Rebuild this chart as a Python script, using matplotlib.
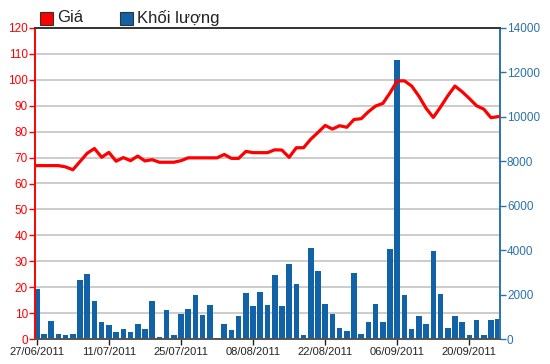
import matplotlib
matplotlib.use("Agg")
import matplotlib.pyplot as plt
from matplotlib.patches import Rectangle

plt.rcParams['font.family'] = ['Liberation Sans', 'DejaVu Sans']

# trading-day labels shown on the x axis (every 10th session)
tick_labels = ['27/06/2011', '11/07/2011', '25/07/2011', '08/08/2011',
               '22/08/2011', '06/09/2011', '20/09/2011']

# closing price (left axis)
price = [66.9, 66.9, 66.9, 66.9, 66.4, 65.3, 68.5, 71.7, 73.5, 70.1,
         72.0, 68.6, 70.0, 68.8, 70.6, 68.7, 69.2, 68.2, 68.2, 68.2,
         68.8, 69.9, 69.9, 69.9, 69.9, 69.9, 71.2, 69.7, 69.7, 72.4,
         71.9, 71.9, 71.9, 73.0, 72.9, 70.1, 73.8, 73.8, 77.1, 79.7,
         82.4, 81.0, 82.3, 81.7, 84.7, 85.0, 87.7, 89.9, 90.9, 95.0,
         99.6, 99.6, 97.6, 93.7, 89.0, 85.5, 89.5, 93.8, 97.6, 95.4,
         92.8, 90.0, 88.7, 85.4, 85.8]

# traded volume (right axis)
volume = [2240, 230, 800, 230, 175, 230, 2640, 2920, 1690, 750,
          620, 300, 440, 300, 690, 440, 1690, 70, 1310, 175,
          1130, 1340, 1960, 1070, 1520, 60, 690, 410, 1015, 2065,
          1470, 2135, 1530, 2870, 1470, 3360, 2470, 175, 4095, 3080,
          1575, 1120, 515, 360, 2975, 230, 750, 1575, 750, 4050,
          12565, 1960, 440, 1015, 690, 3965, 2020, 515, 1015, 750,
          175, 840, 175, 840, 900]

red = '#ff0000'
blue = '#1262a8'
axis_blue = '#2a73a8'

x = list(range(len(price)))

fig = plt.figure(figsize=(5.5, 3.64), dpi=100)
ax = fig.add_axes([35/550, 1-339/364, 465/550, 311/364])
ax2 = ax.twinx()

# volume bars behind, price line in front
ax2.set_zorder(1)
ax.set_zorder(2)
ax.patch.set_visible(False)

ax2.bar(x, volume, width=0.78, color=blue, zorder=2)
ax.plot(x, price, color=red, lw=2.3, solid_joinstyle='round', zorder=3)

ax.set_xlim(-0.25, 64.25)
ax.set_ylim(0, 120)
ax2.set_ylim(0, 14000)

ax.set_yticks(range(0, 121, 10))
ax2.set_yticks(range(0, 14001, 2000))
ax.set_xticks(range(0, 61, 10))
ax.set_xticklabels(tick_labels)

for v in range(10, 121, 10):
    ax2.axhline(v / 120 * 14000, color='#c8c8c8', lw=1.3, zorder=1)

ax.tick_params(axis='y', colors=red, labelsize=8.5, length=4, width=1, pad=1)
ax.tick_params(axis='x', labelsize=8, length=4, width=1, pad=2, colors='#222222')
ax2.tick_params(axis='y', colors=axis_blue, labelsize=8.5, length=4, width=1, pad=1)

for a in (ax, ax2):
    a.spines['left'].set_color(red)
    a.spines['right'].set_color(axis_blue)
    a.spines['top'].set_color('#333333')
    a.spines['bottom'].set_color('#555555')
    for s in a.spines.values():
        s.set_linewidth(1.2)

# legend along the top
fig.patches.append(Rectangle((40/550, 1-25/364), 13/550, 13/364, transform=fig.transFigure,
                             facecolor=red, edgecolor='#333333', lw=0.8))
fig.text(57/550, 1-18/364, 'Giá', fontsize=12, color='#222222', va='center')
fig.patches.append(Rectangle((120/550, 1-25/364), 13/550, 13/364, transform=fig.transFigure,
                             facecolor=blue, edgecolor='#333333', lw=0.8))
fig.text(137/550, 1-18/364, 'Khối lượng', fontsize=12, color='#222222', va='center')

fig.savefig('out.png', dpi=100)
